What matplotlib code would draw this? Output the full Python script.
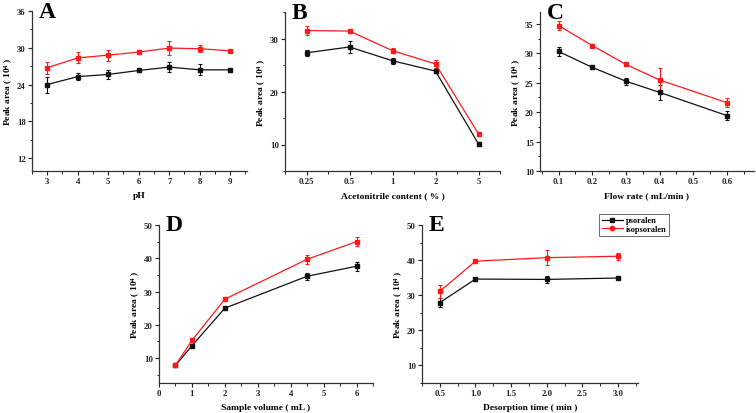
import matplotlib
matplotlib.use("Agg")
import matplotlib.pyplot as plt
from matplotlib.lines import Line2D
from matplotlib.ticker import MultipleLocator, FixedLocator

plt.rcParams["font.family"] = ["Liberation Serif", "DejaVu Serif"]
plt.rcParams["font.weight"] = "bold"
plt.rcParams["mathtext.fontset"] = "custom"
plt.rcParams["mathtext.rm"] = "Liberation Serif:bold"
plt.rcParams["mathtext.it"] = "Liberation Serif:bold"
plt.rcParams["mathtext.bf"] = "Liberation Serif:bold"

BLACK = "#111111"
RED = "#ff1a1a"

# A: pH
ph = [3, 4, 5, 6, 7, 8, 9]
ph_pso = [24.0, 25.3, 25.65, 26.3, 26.85, 26.4, 26.4]
ph_pso_err = [1.3, 0.6, 0.7, 0.2, 0.75, 0.9, 0.1]
ph_iso = [26.75, 28.35, 28.8, 29.3, 29.95, 29.85, 29.5]
ph_iso_err = [1.0, 0.9, 0.9, 0.2, 1.1, 0.6, 0.2]

# B: acetonitrile content (categorical)
acn_labels = ["0.25", "0.5", "1", "2", "5"]
acn_pso = [27.3, 28.4, 25.8, 23.85, 10.1]
acn_pso_err = [0.6, 1.2, 0.6, 0.3, 0.3]
acn_iso = [31.5, 31.4, 27.7, 25.2, 12.0]
acn_iso_err = [0.8, 0.3, 0.5, 0.8, 0.2]

# C: flow rate
flow = [0.1, 0.2, 0.3, 0.4, 0.6]
flow_pso = [30.3, 27.6, 25.25, 23.35, 19.4]
flow_pso_err = [0.7, 0.1, 0.6, 1.3, 0.8]
flow_iso = [34.7, 31.3, 28.1, 25.45, 21.6]
flow_iso_err = [0.8, 0.3, 0.2, 2.1, 0.8]

# D: sample volume
vol = [0.5, 1, 2, 4.5, 6]
vol_pso = [7.8, 13.7, 25.0, 34.6, 37.6]
vol_pso_err = [0.2, 0.6, 0.3, 1.0, 1.4]
vol_iso = [7.8, 15.3, 27.7, 39.7, 45.0]
vol_iso_err = [0.2, 0.6, 0.6, 1.3, 1.4]

# E: desorption time
des = [0.5, 1.0, 2.0, 3.0]
des_pso = [27.9, 34.6, 34.5, 34.9]
des_pso_err = [1.2, 0.2, 1.0, 0.2]
des_iso = [31.1, 39.7, 40.7, 41.1]
des_iso_err = [1.8, 0.2, 2.2, 1.0]

W, H = 756, 414
fig = plt.figure(figsize=(W / 100, H / 100), dpi=100)


def make_ax(left, right, top, bottom):
    return fig.add_axes([left / W, 1 - bottom / H, (right - left) / W, (bottom - top) / H])


def style(ax, letter, xlabel):
    for side in ("top", "right"):
        ax.spines[side].set_visible(False)
    for side in ("left", "bottom"):
        ax.spines[side].set_color("#333333")
        ax.spines[side].set_linewidth(0.9)
    ax.tick_params(which="major", direction="out", length=3, width=0.8,
                   labelsize=6.3, pad=1.5, colors="#222222")
    ax.tick_params(which="minor", direction="out", length=1.8, width=0.7, colors="#222222")
    ax.set_xlabel(xlabel, fontsize=6.8, fontweight="bold", labelpad=4)
    ax.set_ylabel("Peak area ( 10$^{4}$ )", fontsize=6.8, fontweight="bold", labelpad=1.5)
    ax.text(0.03, 1.0, letter, transform=ax.transAxes, fontsize=17,
            fontweight="bold", va="center", ha="left")


def draw(ax, x, pso, pso_err, iso, iso_err):
    kw = dict(marker="s", markersize=3.4, linewidth=0.9, capsize=1.6,
              elinewidth=0.8, capthick=0.8)
    ax.errorbar(x, pso, yerr=pso_err, color=BLACK, **kw)
    ax.errorbar(x, iso, yerr=iso_err, color=RED, **kw)


# A
ax = make_ax(32, 247, 12, 172)
draw(ax, ph, ph_pso, ph_pso_err, ph_iso, ph_iso_err)
ax.set_xlim(2.5, 9.55)
ax.set_ylim(9.9, 36)
ax.set_xticks(ph)
ax.xaxis.set_minor_locator(MultipleLocator(0.5))
ax.set_yticks([12, 18, 24, 30, 36])
ax.yaxis.set_minor_locator(MultipleLocator(3))
style(ax, "A", "pH")

# B
ax = make_ax(285, 500, 13, 172)
pos = list(range(1, len(acn_labels) + 1))
draw(ax, pos, acn_pso, acn_pso_err, acn_iso, acn_iso_err)
ax.set_xlim(0.5, 5.5)
ax.set_ylim(5, 35)
ax.set_xticks(pos)
ax.set_xticklabels(acn_labels)
ax.xaxis.set_minor_locator(FixedLocator([0.5, 1.5, 2.5, 3.5, 4.5, 5.5]))
ax.set_yticks([10, 20, 30])
ax.yaxis.set_minor_locator(MultipleLocator(5))
style(ax, "B", "Acetonitrile content ( % )")

# C
ax = make_ax(540, 754, 13, 172)
draw(ax, flow, flow_pso, flow_pso_err, flow_iso, flow_iso_err)
ax.set_xlim(0.045, 0.68)
ax.set_ylim(10, 37)
ax.set_xticks([0.1, 0.2, 0.3, 0.4, 0.5, 0.6])
ax.xaxis.set_minor_locator(MultipleLocator(0.05))
ax.set_yticks([10, 15, 20, 25, 30, 35])
ax.yaxis.set_minor_locator(MultipleLocator(2.5))
style(ax, "C", "Flow rate ( mL/min )")

# D
ax = make_ax(159, 373, 226, 384)
draw(ax, vol, vol_pso, vol_pso_err, vol_iso, vol_iso_err)
ax.set_xlim(0, 6.5)
ax.set_ylim(2.5, 50)
ax.set_xticks([0, 1, 2, 3, 4, 5, 6])
ax.xaxis.set_minor_locator(MultipleLocator(0.5))
ax.set_yticks([10, 20, 30, 40, 50])
ax.yaxis.set_minor_locator(MultipleLocator(5))
style(ax, "D", "Sample volume ( mL )")

# E
ax = make_ax(422, 638, 226, 384)
draw(ax, des, des_pso, des_pso_err, des_iso, des_iso_err)
ax.set_xlim(0.25, 3.28)
ax.set_ylim(5, 50)
ax.set_xticks([0.5, 1.0, 1.5, 2.0, 2.5, 3.0])
ax.xaxis.set_minor_locator(MultipleLocator(0.25))
ax.set_yticks([10, 20, 30, 40, 50])
ax.yaxis.set_minor_locator(MultipleLocator(5))
style(ax, "E", "Desorption time ( min )")
handles = [
    Line2D([], [], color=BLACK, marker="s", markersize=3.2, linewidth=0.9),
    Line2D([], [], color=RED, marker="o", markersize=3.2, linewidth=0.9),
]
leg = ax.legend(handles, ["psoralen", "isopsoralen"], loc="upper left",
                bbox_to_anchor=(0.82, 1.07), fontsize=6, frameon=True,
                fancybox=False, borderpad=0.3, handlelength=2.6,
                handletextpad=0.3, labelspacing=0.1, borderaxespad=0)
leg.get_frame().set_edgecolor("#444444")
leg.get_frame().set_linewidth(0.7)

fig.savefig("out.png", dpi=100)
